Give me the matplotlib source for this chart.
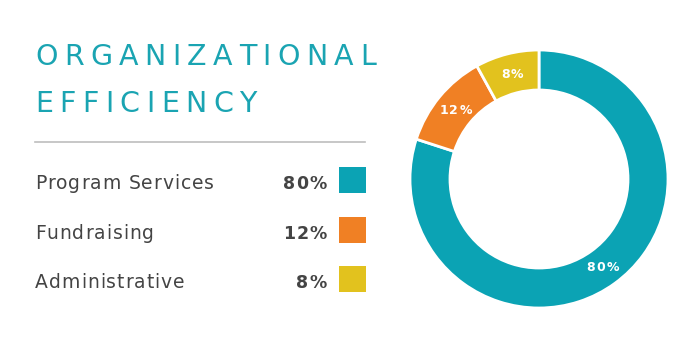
import matplotlib
matplotlib.use('Agg')
import matplotlib.pyplot as plt
import numpy as np
from matplotlib.font_manager import FontProperties, findfont, get_font

# data
labels = ['Program Services', 'Fundraising', 'Administrative']
shares = [80, 12, 8]
colors = ['#0ba3b4', '#f08024', '#e2c21e']
title_lines = ['ORGANIZATIONAL', 'EFFICIENCY']

FONT = 'DejaVu Sans'
TEAL_TXT = '#1aa4b2'
GREY_TXT = '#444444'
DPI = 100

fig = plt.figure(figsize=(6.95, 3.44), dpi=DPI)
fig.patch.set_facecolor('white')

# full-figure axes in pixel coords for all the text, drawn on top
tx = fig.add_axes([0, 0, 1, 1])
tx.set_xlim(0, 695)
tx.set_ylim(344, 0)
tx.axis('off')
tx.set_zorder(5)


def spaced(x, y, s, size, track, ha='left', weight='normal', color=GREY_TXT):
    """draw s char by char with extra `track` px between letters"""
    fp = FontProperties(family=FONT, size=size, weight=weight)
    font = get_font(findfont(fp))
    font.set_size(size, DPI)
    advs = []
    for ch in s:
        g = font.load_char(ord(ch))
        advs.append(g.linearHoriAdvance / 65536)
    total = sum(advs) + track * (len(s) - 1)
    if ha == 'right':
        x = x - total
    elif ha == 'center':
        x = x - total / 2
    for ch, adv in zip(s, advs):
        if ch != ' ':
            tx.text(x, y, ch, fontproperties=fp, color=color, va='baseline', ha='left')
        x += adv + track


# title
spaced(35, 65, title_lines[0], 20.5, 6.4, color=TEAL_TXT)
spaced(35, 112, title_lines[1], 20.5, 6.4, color=TEAL_TXT)
tx.plot([35, 365], [142, 142], color='#bdbdbd', lw=1.2)

# legend rows
baselines = [189, 239, 288]
for lab, v, c, yb in zip(labels, shares, colors, baselines):
    spaced(35, yb, lab, 13.5, 0.95)
    spaced(327, yb, f'{v}%', 12.5, 1.2, ha='right', weight='bold')
    tx.add_patch(plt.Rectangle((339, yb - 22), 27, 26, color=c, lw=0))

# donut
cx, cy, R = 539, 179, 129
pa = fig.add_axes([(cx - R) / 695, (344 - cy - R) / 344, 2 * R / 695, 2 * R / 344])
wedges, _ = pa.pie(shares, colors=colors, startangle=90, counterclock=False,
                   radius=1, wedgeprops=dict(width=0.31, edgecolor='white', linewidth=2))
pa.set_xlim(-1, 1)
pa.set_ylim(-1, 1)
pa.set_aspect('equal')
pa.axis('off')

for v, w in zip(shares, wedges):
    mid = np.deg2rad((w.theta1 + w.theta2) / 2)
    lx = cx + 0.84 * R * np.cos(mid)
    ly = cy - 0.84 * R * np.sin(mid)
    spaced(lx, ly + 4, f'{v}%', 9, 1.3, ha='center', weight='bold', color='white')

fig.savefig('out.png', dpi=DPI)
